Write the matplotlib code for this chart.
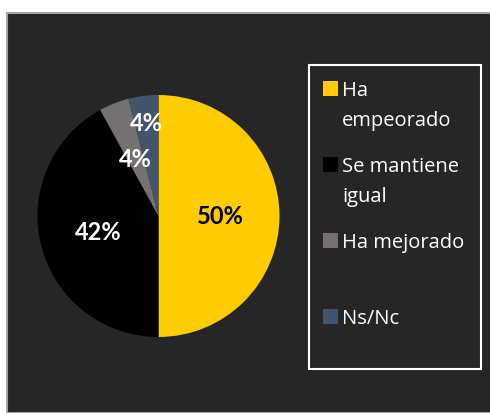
import matplotlib
matplotlib.use("Agg")
import matplotlib.pyplot as plt
from matplotlib.patches import Rectangle
import numpy as np

# datos del gráfico
categorias = ["Ha empeorado", "Se mantiene igual", "Ha mejorado", "Ns/Nc"]
etiquetas_leyenda = [["Ha", "empeorado"], ["Se mantiene", "igual"], ["Ha mejorado"], ["Ns/Nc"]]
valores = [50, 42, 4, 4]
colores = ["#FFCC00", "#000000", "#767171", "#44546A"]
color_pct = ["black", "white", "white", "white"]

W, H = 490, 414
fig = plt.figure(figsize=(W / 100, H / 100), dpi=100)
fig.patch.set_facecolor("white")


def fx(px):
    return px / W


def fy(py):
    return 1 - py / H


# fondo oscuro del área del gráfico
fig.patches.append(Rectangle((fx(7), 0), 1, fy(14), transform=fig.transFigure,
                             facecolor="#262626", edgecolor="#a6a6a6", linewidth=1.5, zorder=-5))

# pie
cx, cy, r = 158.5, 217, 121
ax = fig.add_axes([fx(cx - r), fy(cy + r), 2 * r / W, 2 * r / H])
ax.set_zorder(2)
ax.set_facecolor("none")
wedges, _, textos = ax.pie(valores, colors=colores, startangle=90, counterclock=False,
                           autopct="%1.0f%%", pctdistance=0.51, radius=1,
                           textprops=dict(fontsize=17, fontweight="bold",
                                          family=["Lato", "DejaVu Sans"]))
ax.set_xlim(-1, 1)
ax.set_ylim(-1, 1)
ax.set_aspect("auto")
ax.axis("off")
for t, c in zip(textos, color_pct):
    t.set_color(c)
# etiqueta del último sector más afuera
w = wedges[-1]
ang = np.deg2rad((w.theta1 + w.theta2) / 2)
textos[-1].set_position((0.775 * np.cos(ang), 0.775 * np.sin(ang)))

# leyenda manual
fig.patches.append(Rectangle((fx(309), fy(370)), fx(481) - fx(309), fy(66) - fy(370),
                             transform=fig.transFigure, facecolor="none",
                             edgecolor="white", linewidth=1.5, zorder=3))
y0 = 89.5
paso = 76
for i, (lineas, col) in enumerate(zip(etiquetas_leyenda, colores)):
    yc = y0 + i * paso
    fig.patches.append(Rectangle((fx(323), fy(yc + 7.5)), 15 / W, 15 / H,
                                 transform=fig.transFigure, facecolor=col,
                                 edgecolor="none", zorder=3))
    for j, t in enumerate(lineas):
        fig.text(fx(342), fy(yc + 6.5 + j * 30), t, color="white", fontsize=14.5,
                 family=["Open Sans", "DejaVu Sans"], va="baseline", ha="left")

fig.savefig("out.png", dpi=100, facecolor="white")
